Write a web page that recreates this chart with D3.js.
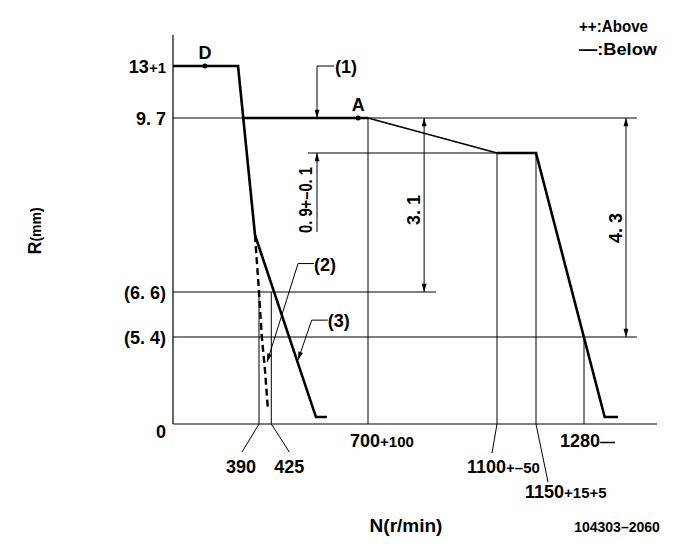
<!DOCTYPE html>
<html><head><meta charset="utf-8">
<script src="https://cdn.jsdelivr.net/npm/d3@7"></script>
<style>
body{margin:0;background:#fff}
text{font-family:"Liberation Sans Narrow","Liberation Sans",Arial,sans-serif;font-weight:bold;fill:#000}
</style></head><body>
<svg id="c" width="685" height="549"></svg>
<script>
// ---- data (rpm, R mm) ----
const rpmKnots = [0, 390, 700, 1100, 1150, 1280, 1400];
const rKnots   = [0, 5.4, 6.6, 8.8, 9.7, 13, 15];
const mainCurve = [[0,13],[295,13],[372,7.5],[552,0.43],[583,0.43]];
const fullLoad  = [[317,9.7],[700,9.7]];
const droop     = [[700,9.7],[1100,8.8]];
const cutoff    = [[1100,8.8],[1150,8.8],[1314,0.43],[1336,0.43]];
const dashed    = [[372,7.5],[390,6.6],[398,5.4],[407,3.35],[415,1.0]];
const points    = [{name:"D", n:145, r:13},{name:"A", n:672, r:9.7}];
const hRefs     = [[0,1367,9.7],[529,1150,8.8],[0,911,6.6],[0,1367,5.4]];
const vRefs     = [[390,6.6],[425,6.6],[700,9.7],[1100,8.8],[1150,8.8],[1280,5.4]];
const yTickValues = [13, 9.7, 6.6, 5.4, 0];
const yTickLabels = [["13","+1"],["9. 7",""],["(6. 6)",""],["(5. 4)",""],["0",""]];
const xLabels = [
  {n:390,  main:"390",  tol:"",      lead:[-17,28], pos:[-18,49], anchor:"middle"},
  {n:425,  main:"425",  tol:"",      lead:[18,28],  pos:[18,49],  anchor:"middle"},
  {n:700,  main:"700",  tol:"+100",  lead:null,     pos:[-18,23], anchor:"start"},
  {n:1100, main:"1100", tol:"+–50",  lead:[-5,29],  pos:[-30,49], anchor:"start"},
  {n:1150, main:"1150", tol:"+15+5", lead:[12,58],  pos:[-11,74], anchor:"start"},
  {n:1280, main:"1280", tol:"—",     lead:null,     pos:[-24,23], anchor:"start"}
];
const dims = [
  {n:555,  from:13,  to:9.7, label:"(1)"},
  {n:874,  from:9.7, to:6.6, label:"3. 1"},
  {n:1349, from:9.7, to:5.4, label:"4. 3"}
];
const tolDim = {n:555, from:7.55, to:8.8, label:"0. 9+–0. 1"};
const callouts = [
  {label:"(2)", tip:[413,3.85], knee:[501,7.05]},
  {label:"(3)", tip:[501,3.97], knee:[540,5.85]}
];

// ---- scales ----
const x = d3.scaleLinear().domain(rpmKnots).range([173,259,368,497,536,584,657]);
const y = d3.scaleLinear().domain(rKnots).range([424,337,292,153,118,66,35]);

const svg = d3.select("#c");
const defs = svg.append("defs");
defs.append("marker").attr("id","arr").attr("viewBox","0 0 10 6")
  .attr("refX",10).attr("refY",3).attr("markerWidth",9).attr("markerHeight",5)
  .attr("markerUnits","userSpaceOnUse").attr("orient","auto")
  .append("path").attr("d","M0,0L10,3L0,6Z").attr("fill","#000");
defs.append("marker").attr("id","arrS").attr("viewBox","0 0 10 6")
  .attr("refX",0).attr("refY",3).attr("markerWidth",9).attr("markerHeight",5)
  .attr("markerUnits","userSpaceOnUse").attr("orient","auto")
  .append("path").attr("d","M10,0L0,3L10,6Z").attr("fill","#000");

const line = d3.line().x(d=>x(d[0])).y(d=>y(d[1]));

// axes
svg.append("line").attr("x1",x(0)).attr("x2",x(0)).attr("y1",y(15)).attr("y2",y(0))
  .attr("stroke","#000").attr("stroke-width",1.2);
svg.append("line").attr("x1",x(0)).attr("x2",x(1400)).attr("y1",y(0)).attr("y2",y(0))
  .attr("stroke","#000").attr("stroke-width",1.2);

// reference lines
hRefs.forEach(h=>svg.append("line").attr("x1",x(h[0])).attr("x2",x(h[1]))
  .attr("y1",y(h[2])).attr("y2",y(h[2])).attr("stroke","#000").attr("stroke-width",1));
vRefs.forEach(v=>svg.append("line").attr("x1",x(v[0])).attr("x2",x(v[0]))
  .attr("y1",y(v[1])).attr("y2",y(0)).attr("stroke","#000").attr("stroke-width",1));

// curves
svg.append("path").attr("d",line(mainCurve)).attr("fill","none").attr("stroke","#000").attr("stroke-width",2.6);
svg.append("path").attr("d",line(fullLoad)).attr("fill","none").attr("stroke","#000").attr("stroke-width",2.6);
svg.append("path").attr("d",line(droop)).attr("fill","none").attr("stroke","#000").attr("stroke-width",1.6);
svg.append("path").attr("d",line(cutoff)).attr("fill","none").attr("stroke","#000").attr("stroke-width",2.6);
svg.append("path").attr("d",line(dashed)).attr("fill","none").attr("stroke","#000").attr("stroke-width",2.4)
  .attr("stroke-dasharray","7,4");

// points
points.forEach(p=>{
  svg.append("circle").attr("cx",x(p.n)).attr("cy",y(p.r)).attr("r",2.5).attr("fill","#000");
  svg.append("text").attr("x",x(p.n)).attr("y",y(p.r)-7).attr("text-anchor","middle")
    .attr("font-size",18).text(p.name);
});

// y labels
yTickValues.forEach((v,i)=>{
  const t = svg.append("text").attr("x",166).attr("y",y(v)+(v===0?14:7)).attr("text-anchor","end").attr("font-size",18);
  t.append("tspan").text(yTickLabels[i][0]);
  if (yTickLabels[i][1]) t.append("tspan").attr("font-size",15).text(yTickLabels[i][1]);
});

// x labels
xLabels.forEach(l=>{
  const px = x(l.n), py = y(0);
  if (l.lead) svg.append("line").attr("x1",px).attr("y1",py).attr("x2",px+l.lead[0]).attr("y2",py+l.lead[1])
    .attr("stroke","#000").attr("stroke-width",1);
  const t = svg.append("text").attr("x",px+l.pos[0]).attr("y",py+l.pos[1]).attr("text-anchor",l.anchor).attr("font-size",18);
  t.append("tspan").text(l.main);
  if (l.tol) t.append("tspan").attr("font-size",15).text(l.tol);
});

// dimension lines
dims.forEach(d=>{
  const px = x(d.n);
  if (d.label==="(1)") {
    svg.append("line").attr("x1",px).attr("x2",px).attr("y1",y(d.from)).attr("y2",y(d.to))
      .attr("stroke","#000").attr("stroke-width",1).attr("marker-end","url(#arr)");
    svg.append("line").attr("x1",px).attr("x2",px+17).attr("y1",y(d.from)).attr("y2",y(d.from))
      .attr("stroke","#000").attr("stroke-width",1);
    svg.append("text").attr("x",px+18).attr("y",y(d.from)+7).attr("font-size",18).text(d.label);
  } else {
    svg.append("line").attr("x1",px).attr("x2",px).attr("y1",y(d.from)).attr("y2",y(d.to))
      .attr("stroke","#000").attr("stroke-width",1)
      .attr("marker-start","url(#arrS)").attr("marker-end","url(#arr)");
    const cy = d.label==="3. 1" ? 210 : 228;
    svg.append("text").attr("transform",`translate(${px-4},${cy}) rotate(-90)`)
      .attr("text-anchor","middle").attr("font-size",18).text(d.label);
  }
});

svg.append("line").attr("x1",x(tolDim.n)).attr("x2",x(tolDim.n)).attr("y1",y(tolDim.from)).attr("y2",y(tolDim.to))
  .attr("stroke","#000").attr("stroke-width",1).attr("marker-end","url(#arr)");
svg.append("text").attr("transform",`translate(${x(tolDim.n)-5},200) rotate(-90)`)
  .attr("text-anchor","middle").attr("font-size",18)
  .attr("textLength",66).attr("lengthAdjust","spacingAndGlyphs").text(tolDim.label);

// callouts
callouts.forEach(c=>{
  const kx = x(c.knee[0]), ky = y(c.knee[1]);
  svg.append("line").attr("x1",kx+16).attr("x2",kx).attr("y1",ky).attr("y2",ky).attr("stroke","#000").attr("stroke-width",1);
  svg.append("line").attr("x1",kx).attr("y1",ky).attr("x2",x(c.tip[0])).attr("y2",y(c.tip[1]))
    .attr("stroke","#000").attr("stroke-width",1).attr("marker-end","url(#arr)");
  svg.append("text").attr("x",kx+16).attr("y",ky+7).attr("font-size",18).text(c.label);
});

// legend
svg.append("text").attr("x",579).attr("y",32).attr("font-size",17)
  .attr("textLength",69).attr("lengthAdjust","spacingAndGlyphs").text("++:Above");
svg.append("text").attr("x",579).attr("y",55).attr("font-size",17)
  .attr("textLength",78).attr("lengthAdjust","spacingAndGlyphs").text("—:Below");

// axis titles
const rt = svg.append("text").attr("transform","translate(41,231) rotate(-90)").attr("text-anchor","middle").attr("font-size",18);
rt.append("tspan").text("R");
rt.append("tspan").attr("font-size",14).text("(mm)");
svg.append("text").attr("x",406).attr("y",532).attr("text-anchor","middle").attr("font-size",19).text("N(r/min)");
svg.append("text").attr("x",617).attr("y",532).attr("text-anchor","middle").attr("font-size",14).text("104303–2060");
</script>
</body></html>
